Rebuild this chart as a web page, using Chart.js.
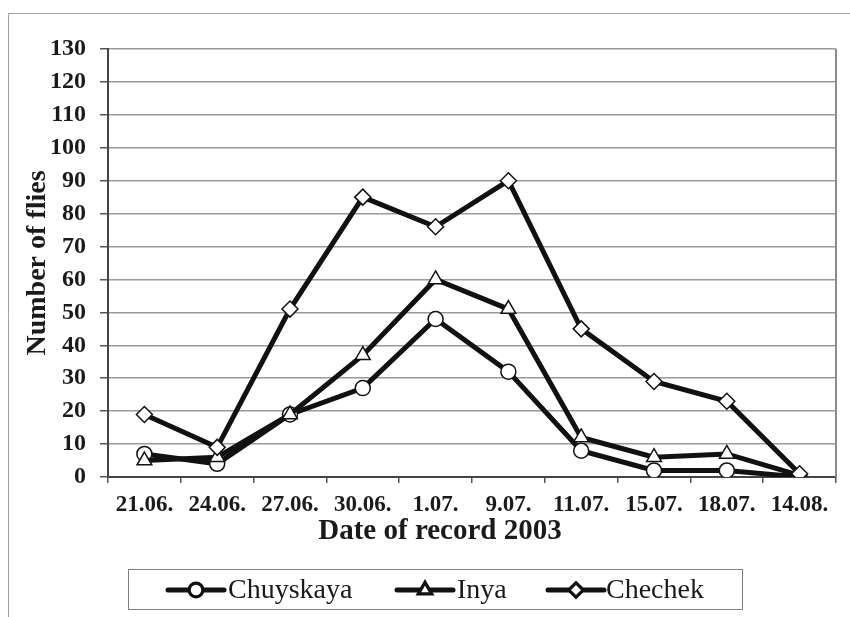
<!DOCTYPE html>
<html>
<head>
<meta charset="utf-8">
<script src="https://cdn.jsdelivr.net/npm/chart.js@4/dist/chart.umd.min.js"></script>
<style>
  html, body { margin: 0; padding: 0; background: #fff; }
  #wrap { position: relative; width: 850px; height: 617px; }
  canvas { display: block; }
</style>
</head>
<body>
<div id="wrap"><canvas id="c" width="850" height="617"></canvas></div>
<script>
const categories = ["21.06.", "24.06.", "27.06.", "30.06.", "1.07.", "9.07.", "11.07.", "15.07.", "18.07.", "14.08."];
const seriesNames = ["Chuyskaya", "Inya", "Chechek"];
const chuyskaya = [7, 4, 19, 27, 48, 32, 8, 2, 2, 0];
const inya = [5, 6, 19, 37, 60, 51, 12, 6, 7, 0.5];
const chechek = [19, 9, 51, 85, 76, 90, 45, 29, 23, 1];
const markerStyles = ["circle", "triangle", "rectRot"];
const xTitle = "Date of record 2003";
const yTitle = "Number of flies";

const SERIF = "'Liberation Serif', 'Times New Roman', serif";

function mkDataset(label, data, style, order, radius) {
  return {
    label: label,
    data: data,
    borderColor: "#111",
    borderWidth: 5,
    backgroundColor: "#fff",
    pointStyle: style,
    pointRadius: radius,
    pointBackgroundColor: "#fff",
    pointBorderColor: "#111",
    pointBorderWidth: 1.5,
    tension: 0,
    order: order
  };
}

const decor = {
  id: "decor",
  beforeDraw(chart) {
    const ctx = chart.ctx;
    ctx.save();
    ctx.strokeStyle = "#a0a0a0";
    ctx.lineWidth = 1;
    ctx.beginPath();
    ctx.moveTo(8.5, 617);
    ctx.lineTo(8.5, 13.5);
    ctx.lineTo(850, 13.5);
    ctx.stroke();
    ctx.restore();
  },
  afterDatasetsDraw(chart) {
    const ctx = chart.ctx;
    const a = chart.chartArea;
    ctx.save();
    ctx.strokeStyle = "#8a8a8a";
    ctx.lineWidth = 2;
    ctx.beginPath();
    ctx.moveTo(a.right, a.top);
    ctx.lineTo(a.right, a.bottom);
    ctx.stroke();
    ctx.restore();
  },
  afterDraw(chart) {
    const ctx = chart.ctx;
    ctx.save();
    ctx.fillStyle = "#1a1a1a";
    ctx.font = "bold 29px " + SERIF;
    ctx.textAlign = "center";
    ctx.textBaseline = "middle";
    ctx.fillText(xTitle, 440, 532);
    ctx.save();
    ctx.translate(38, 263);
    ctx.rotate(-Math.PI / 2);
    ctx.font = "bold 28px " + SERIF;
    ctx.fillText(yTitle, 0, 0);
    ctx.restore();

    ctx.strokeStyle = "#808080";
    ctx.lineWidth = 1;
    ctx.strokeRect(128.5, 569.5, 614, 40);
    const items = [
      { x0: 168, x1: 224, tx: 228 },
      { x0: 397, x1: 453, tx: 457 },
      { x0: 548, x1: 604, tx: 606 }
    ];
    const cy = 590;
    chart.data.datasets.forEach((ds, i) => {
      const it = items[i];
      ctx.strokeStyle = "#111";
      ctx.lineWidth = 5;
      ctx.lineCap = "round";
      ctx.beginPath();
      ctx.moveTo(it.x0, cy);
      ctx.lineTo(it.x1, cy);
      ctx.stroke();
      ctx.lineCap = "butt";
      Chart.helpers.drawPoint(ctx, {
        pointStyle: ds.pointStyle,
        rotation: 0,
        borderWidth: 1.5,
        radius: 6
      }, (it.x0 + it.x1) / 2, cy);
      ctx.fillStyle = "#fff";
      ctx.strokeStyle = "#111";
      ctx.lineWidth = 1.5;
      ctx.fill();
      ctx.stroke();
      ctx.fillStyle = "#1a1a1a";
      ctx.font = "28px " + SERIF;
      ctx.textAlign = "left";
      ctx.textBaseline = "middle";
      ctx.fillText(ds.label, it.tx, cy + 1);
    });
    ctx.restore();
  }
};

new Chart(document.getElementById("c"), {
  type: "line",
  data: {
    labels: categories,
    datasets: [
      mkDataset(seriesNames[0], chuyskaya, markerStyles[0], 3, 7.5),
      mkDataset(seriesNames[1], inya, markerStyles[1], 2, 8.5),
      mkDataset(seriesNames[2], chechek, markerStyles[2], 1, 8)
    ]
  },
  options: {
    responsive: false,
    animation: false,
    events: [],
    layout: { padding: { left: 0, top: 49, right: 14, bottom: 0 } },
    plugins: {
      legend: { display: false },
      tooltip: { enabled: false },
      title: { display: false }
    },
    scales: {
      x: {
        type: "category",
        offset: true,
        grid: {
          offset: true,
          drawOnChartArea: false,
          drawTicks: true,
          tickLength: 6,
          color: "#555",
          lineWidth: 1.5
        },
        border: { display: true, color: "#444", width: 2 },
        ticks: {
          color: "#1a1a1a",
          font: { family: SERIF, size: 23, weight: "bold" },
          padding: 8,
          maxRotation: 0,
          autoSkip: false
        },
        afterFit(scale) { scale.height = 140; }
      },
      y: {
        min: 0,
        max: 130,
        grid: {
          color: "#9a9a9a",
          lineWidth: 1.5,
          drawTicks: true,
          tickLength: 8,
          tickColor: "#555"
        },
        border: { display: true, color: "#444", width: 2 },
        ticks: {
          stepSize: 10,
          color: "#1a1a1a",
          font: { family: SERIF, size: 24, weight: "bold" },
          padding: 14
        },
        afterFit(scale) { scale.width = 108; }
      }
    }
  },
  plugins: [decor]
});
</script>
</body>
</html>
